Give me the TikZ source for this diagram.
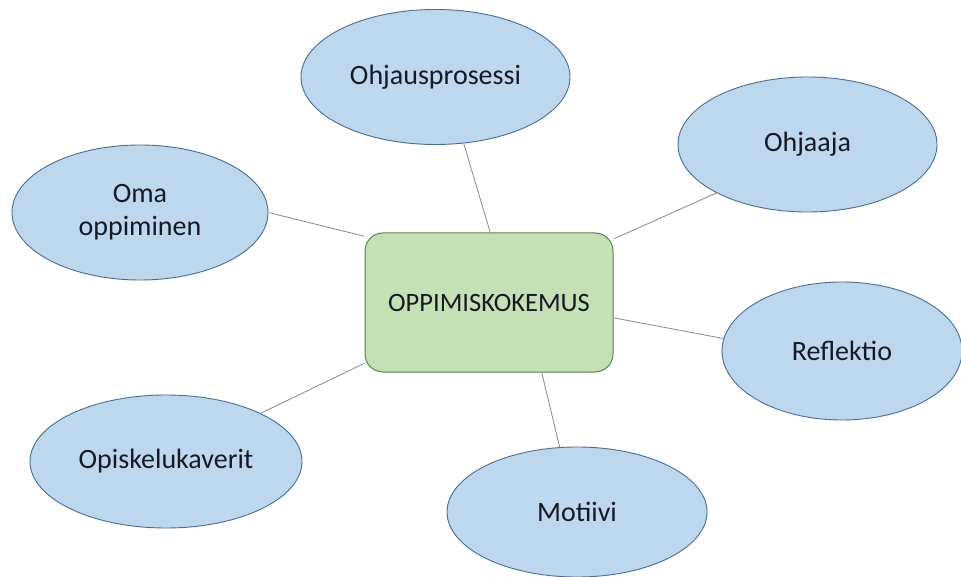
\documentclass[tikz,border=0pt]{standalone}
\usepackage{fontspec}
\setmainfont{Carlito}
\usepackage{tikz}
\usetikzlibrary{shapes.geometric}
\definecolor{topicfill}{HTML}{BDD7EE}
\definecolor{topicline}{HTML}{4A6F93}
\definecolor{hubfill}{HTML}{C5E0B4}
\definecolor{hubline}{HTML}{5F7F55}
\definecolor{linkgray}{HTML}{8A8A8A}
\definecolor{labeltext}{HTML}{161922}
\begin{document}
\begin{tikzpicture}[
  x=1pt,y=-1pt,
  topic/.style={ellipse,draw=topicline,fill=topicfill,line width=0.9pt,inner sep=0pt,minimum height=135pt,align=center,text=labeltext,font=\fontsize{28}{33}\selectfont},
  hub/.style={rectangle,rounded corners=18pt,draw=hubline,fill=hubfill,line width=1pt,minimum width=248pt,minimum height=139pt,text=labeltext,font=\fontsize{26.5}{31}\selectfont},
  link/.style={draw=linkgray,line width=0.8pt}]
\useasboundingbox[fill=white] (0,0) rectangle (961,577);
\node[hub] (kok) at (489,302.5) {OPPIMISKOKEMUS};
\node[topic,minimum width=269pt] (prc) at (435.5,77) {Ohjausprosessi};
\node[topic,minimum width=259pt] (ohj) at (807.5,144.5) {Ohjaaja};
\node[topic,minimum width=256pt] (oma) at (140,212.5) {Oma\\oppiminen};
\node[topic,minimum width=240pt,minimum height=138pt] (refl) at (842,351) {Reflektio};
\node[topic,minimum width=272pt,minimum height=133pt] (kav) at (166,461.5) {Opiskelukaverit};
\node[topic,minimum width=260pt,minimum height=130pt] (mot) at (577,512) {Motiivi};
\draw[link] (prc.-67) -- (kok.89);
\draw[link] (ohj.-152) -- (kok.27);
\draw[link] (oma.0) -- (kok.152);
\draw[link] (refl.174) -- (kok.-7);
\draw[link] (kav.27) -- (kok.-154);
\draw[link] (mot.105) -- (kok.-53);
\end{tikzpicture}
\end{document}
